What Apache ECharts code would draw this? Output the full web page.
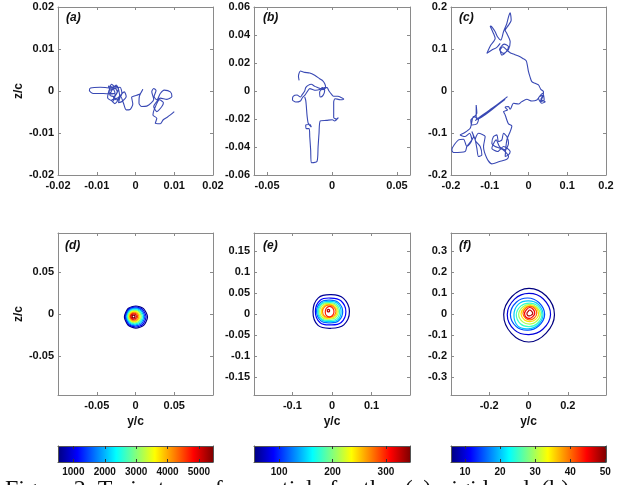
<!DOCTYPE html>
<html><head><meta charset="utf-8">
<script src="https://cdn.jsdelivr.net/npm/echarts@6/dist/echarts.min.js"></script>
<style>html,body{margin:0;padding:0;background:#fff}#c{width:626px;height:485px}</style>
</head><body><div id="c"></div><script>
// ---------------- DATA ----------------
// Trajectories (y/c, z/c)
const trajA = [[-0.0057,0.0006],[-0.0091,0.0009],[-0.0116,0.0007],[-0.0119,0.0001],[-0.0109,-0.0006],[-0.0083,-0.0006],[-0.0066,-0.0007],[-0.0053,-0.0004],[-0.0061,0.0010],[-0.0070,0.0012],[-0.0064,0.0002],[-0.0050,0.0014],[-0.0044,0.0006],[-0.0055,-0.0013],[-0.0066,-0.0010],[-0.0059,0.0004],[-0.0040,0.0009],[-0.0035,-0.0006],[-0.0048,-0.0021],[-0.0057,-0.0017],[-0.0047,-0.0002],[-0.0062,0.0016],[-0.0068,-0.0004],[-0.0052,-0.0008],[-0.0058,-0.0024],[-0.0072,-0.0016],[-0.0066,0.0006],[-0.0048,0.0011],[-0.0041,-0.0012],[-0.0053,-0.0030],[-0.0062,-0.0022],[-0.0045,-0.0016],[-0.0029,-0.0002],[-0.0024,-0.0013],[-0.0035,-0.0025],[-0.0044,-0.0028],[-0.0038,-0.0013],[-0.0031,-0.0029],[-0.0024,-0.0045],[-0.0014,-0.0044],[-0.0007,-0.0031],[-0.0010,-0.0015],[0.0003,-0.0010],[0.0012,-0.0007],[0.0019,0.0004],[0.0010,-0.0013],[0.0009,-0.0029],[0.0016,-0.0037],[0.0029,-0.0036],[0.0040,-0.0029],[0.0047,-0.0020],[0.0042,-0.0002],[0.0047,0.0006],[0.0053,0.0001],[0.0048,-0.0013],[0.0055,-0.0021],[0.0064,-0.0006],[0.0074,0.0002],[0.0090,-0.0002],[0.0094,-0.0013],[0.0081,-0.0020],[0.0064,-0.0017],[0.0055,-0.0025],[0.0047,-0.0037],[0.0055,-0.0049],[0.0068,-0.0037],[0.0072,-0.0028],[0.0062,-0.0021],[0.0048,-0.0045],[0.0045,-0.0057],[0.0055,-0.0065],[0.0051,-0.0077],[0.0064,-0.0078],[0.0071,-0.0069],[0.0081,-0.0063],[0.0090,-0.0057],[0.0100,-0.0049]];
const trajB = [[-0.0253,0.0076],[-0.0258,0.0105],[-0.0243,0.0143],[-0.0210,0.0133],[-0.0171,0.0129],[-0.0133,0.0112],[-0.0095,0.0088],[-0.0069,0.0071],[-0.0054,0.0048],[-0.0049,0.0024],[-0.0069,0.0010],[-0.0107,0.0024],[-0.0133,0.0033],[-0.0159,0.0048],[-0.0184,0.0040],[-0.0202,0.0024],[-0.0210,0.0000],[-0.0228,-0.0024],[-0.0243,-0.0043],[-0.0269,-0.0029],[-0.0299,-0.0038],[-0.0304,-0.0062],[-0.0279,-0.0079],[-0.0243,-0.0071],[-0.0228,-0.0048],[-0.0210,-0.0031],[-0.0192,-0.0007],[-0.0171,0.0017],[-0.0125,0.0005],[-0.0095,0.0010],[-0.0074,0.0024],[-0.0056,0.0005],[-0.0069,-0.0031],[-0.0090,-0.0043],[-0.0095,-0.0007],[-0.0056,0.0024],[-0.0038,0.0024],[-0.0023,0.0000],[-0.0003,-0.0024],[0.0013,-0.0038],[0.0046,-0.0038],[0.0072,-0.0048],[0.0090,-0.0057],[0.0064,-0.0062],[0.0023,-0.0055],[0.0013,-0.0079],[0.0013,-0.0138],[0.0013,-0.0190],[0.0033,-0.0200],[0.0049,-0.0190],[0.0020,-0.0214],[0.0003,-0.0205],[-0.0043,-0.0210],[-0.0090,-0.0214],[-0.0100,-0.0305],[-0.0107,-0.0400],[-0.0115,-0.0502],[-0.0159,-0.0512],[-0.0164,-0.0424],[-0.0171,-0.0329],[-0.0176,-0.0269],[-0.0197,-0.0269],[-0.0202,-0.0245],[-0.0171,-0.0238],[-0.0159,-0.0257],[-0.0182,-0.0233],[-0.0192,-0.0174],[-0.0197,-0.0114],[-0.0202,-0.0067],[-0.0210,-0.0043]];
const trajC = [[-0.0542,-0.0135],[-0.0903,-0.0388],[-0.1247,-0.0610],[-0.1376,-0.0705],[-0.0989,-0.0467],[-0.0602,-0.0198],[-0.0628,-0.0214],[-0.1333,-0.0673],[-0.1350,-0.0570],[-0.1350,-0.0333],[-0.1333,-0.0531],[-0.1419,-0.0626],[-0.1488,-0.0689],[-0.1462,-0.0808],[-0.1333,-0.0784],[-0.1290,-0.0673],[-0.1419,-0.0610],[-0.1505,-0.0887],[-0.1677,-0.1006],[-0.1763,-0.1045],[-0.1634,-0.1085],[-0.1522,-0.1006],[-0.1462,-0.1164],[-0.1591,-0.1323],[-0.1677,-0.1148],[-0.1806,-0.1164],[-0.1978,-0.1402],[-0.1935,-0.1465],[-0.1634,-0.1441],[-0.1591,-0.1323],[-0.1419,-0.1085],[-0.1462,-0.0966],[-0.1376,-0.1164],[-0.1333,-0.1362],[-0.1290,-0.1560],[-0.1204,-0.1521],[-0.1247,-0.1323],[-0.1376,-0.1164],[-0.1290,-0.1006],[-0.1118,-0.1085],[-0.1161,-0.1323],[-0.1075,-0.1600],[-0.0946,-0.1734],[-0.0748,-0.1679],[-0.0559,-0.1624],[-0.0516,-0.1560],[-0.0602,-0.1441],[-0.0731,-0.1362],[-0.0860,-0.1323],[-0.0946,-0.1243],[-0.0903,-0.1085],[-0.0817,-0.1045],[-0.0774,-0.1204],[-0.0688,-0.1164],[-0.0645,-0.1006],[-0.0559,-0.1085],[-0.0516,-0.1243],[-0.0602,-0.1402],[-0.0748,-0.1323],[-0.0834,-0.1164],[-0.0946,-0.1362],[-0.0800,-0.1441],[-0.0645,-0.1323],[-0.0473,-0.1441],[-0.0516,-0.1521],[-0.0602,-0.1560],[-0.0559,-0.1164],[-0.0473,-0.0966],[-0.0430,-0.0832],[-0.0516,-0.0784],[-0.0559,-0.0689],[-0.0602,-0.0570],[-0.0645,-0.0491],[-0.0542,-0.0451],[-0.0602,-0.0388],[-0.0516,-0.0372],[-0.0473,-0.0436],[-0.0387,-0.0293],[-0.0258,-0.0309],[-0.0172,-0.0253],[-0.0043,-0.0198],[0.0086,-0.0238],[0.0215,-0.0214],[0.0284,-0.0135],[0.0387,-0.0095],[0.0318,-0.0198],[0.0430,-0.0253],[0.0344,-0.0293],[0.0258,-0.0174],[0.0370,-0.0055],[0.0404,-0.0214],[0.0301,-0.0253],[0.0370,-0.0135],[0.0387,-0.0016],[0.0318,0.0040],[0.0258,0.0143],[0.0172,0.0182],[0.0086,0.0222],[0.0043,0.0325],[0.0000,0.0459],[-0.0026,0.0594],[-0.0060,0.0721],[-0.0146,0.0776],[-0.0258,0.0832],[-0.0387,0.0879],[-0.0473,0.0911],[-0.0559,0.0974],[-0.0662,0.1053],[-0.0731,0.0974],[-0.0688,0.0855],[-0.0576,0.0935],[-0.0516,0.1053],[-0.0628,0.1117],[-0.0748,0.0990],[-0.0645,0.0895],[-0.0516,0.0990],[-0.0473,0.1172],[-0.0559,0.1370],[-0.0602,0.1449],[-0.0516,0.1568],[-0.0447,0.1687],[-0.0473,0.1861],[-0.0516,0.1766],[-0.0559,0.1608],[-0.0645,0.1410],[-0.0714,0.1212],[-0.0800,0.1291],[-0.0860,0.1410],[-0.0946,0.1529],[-0.0989,0.1544],[-0.0903,0.1370],[-0.0860,0.1251],[-0.0972,0.1093],[-0.1075,0.0895],[-0.0946,0.0974],[-0.0817,0.1038],[-0.0731,0.1133]];

// Contours: level, centre (y/c, z/c), radii at 0,45,...,315 degrees
const dLevels = [500,1000,1500,2000,2500,3000,3500,4000,4500,5000,5400];
const dCenters = [[0.0005,-0.0035],[0.0002,-0.0034],[-0.0002,-0.0033],[-0.0005,-0.0032],[-0.0008,-0.0031],[-0.0011,-0.0030],[-0.0014,-0.0030],[-0.0017,-0.0030],[-0.0020,-0.0030],[-0.0023,-0.0030],[-0.0025,-0.0030]];
const dRadii = [[0.0150,0.0140,0.0130,0.0142,0.0148,0.0140,0.0132,0.0142],[0.0135,0.0126,0.0118,0.0128,0.0134,0.0127,0.0120,0.0128],[0.0122,0.0114,0.0106,0.0116,0.0121,0.0115,0.0108,0.0115],[0.0110,0.0102,0.0095,0.0104,0.0108,0.0103,0.0096,0.0103],[0.0097,0.0090,0.0084,0.0092,0.0096,0.0091,0.0085,0.0091],[0.0085,0.0079,0.0073,0.0080,0.0084,0.0079,0.0074,0.0079],[0.0072,0.0067,0.0062,0.0068,0.0071,0.0067,0.0063,0.0067],[0.0060,0.0055,0.0051,0.0056,0.0059,0.0055,0.0052,0.0055],[0.0047,0.0044,0.0041,0.0045,0.0047,0.0044,0.0041,0.0044],[0.0034,0.0032,0.0030,0.0033,0.0035,0.0032,0.0030,0.0032],[0.0018,0.0017,0.0016,0.0017,0.0019,0.0017,0.0016,0.0017]];
const eLevels = [60,90,120,150,180,210,240,270,300,330];
const eCenters = [[-0.002,0.006],[-0.003,0.006],[-0.005,0.006],[-0.005,0.006],[-0.006,0.006],[-0.006,0.006],[-0.006,0.006],[-0.006,0.006],[-0.006,0.005],[-0.009,0.008]];
const eRadii = [[0.046,0.044,0.040,0.046,0.046,0.047,0.040,0.045],[0.038,0.036,0.032,0.038,0.039,0.038,0.032,0.037],[0.032,0.030,0.027,0.032,0.034,0.032,0.027,0.031],[0.028,0.027,0.024,0.029,0.031,0.029,0.024,0.028],[0.025,0.024,0.021,0.026,0.028,0.026,0.021,0.025],[0.022,0.021,0.019,0.023,0.025,0.023,0.018,0.021],[0.019,0.018,0.017,0.020,0.021,0.020,0.016,0.018],[0.016,0.015,0.015,0.017,0.018,0.017,0.014,0.015],[0.011,0.012,0.013,0.012,0.011,0.012,0.012,0.011],[0.003,0.003,0.003,0.003,0.003,0.003,0.003,0.003]];
const fLevels = [5,10,15,20,25,30,35,40,45,48];
const fCenters = [[0.002,-0.003],[0.002,-0.002],[-0.004,-0.002],[0.000,-0.004],[0.004,-0.004],[0.006,-0.002],[0.008,0.000],[0.008,0.002],[0.006,0.003],[0.006,0.003]];
const fRadii = [[0.130,0.125,0.125,0.122,0.128,0.126,0.130,0.124],[0.110,0.104,0.100,0.103,0.110,0.104,0.096,0.100],[0.086,0.080,0.078,0.082,0.088,0.082,0.075,0.078],[0.074,0.070,0.066,0.072,0.074,0.076,0.066,0.068],[0.064,0.060,0.056,0.060,0.066,0.062,0.056,0.058],[0.054,0.050,0.048,0.050,0.056,0.050,0.046,0.048],[0.044,0.042,0.040,0.042,0.046,0.040,0.036,0.038],[0.034,0.034,0.034,0.034,0.036,0.032,0.030,0.030],[0.026,0.026,0.028,0.024,0.026,0.026,0.024,0.022],[0.016,0.014,0.016,0.012,0.014,0.014,0.012,0.012]];

// Axis ranges and tick labels
const aX = [-0.02,0.02], aY = [-0.02,0.02], aTicks = [-0.02,-0.01,0,0.01,0.02];
const bX = [-0.06,0.06], bY = [-0.06,0.06], bXTicks = [-0.05,0,0.05], bYTicks = [-0.06,-0.04,-0.02,0,0.02,0.04,0.06];
const cX = [-0.2,0.2], cY = [-0.2,0.2], cTicks = [-0.2,-0.1,0,0.1,0.2];
const dX = [-0.1,0.1], dY = [-0.096,0.096], dTicks = [-0.05,0,0.05];
const eX = [-0.197,0.197], eY = [-0.193,0.193], eXTicks = [-0.1,0,0.1], eYTicks = [-0.15,-0.1,-0.05,0,0.05,0.1,0.15];
const fX = [-0.394,0.394], fY = [-0.385,0.385], fXTicks = [-0.2,0,0.2], fYTicks = [-0.3,-0.2,-0.1,0,0.1,0.2,0.3];
const cb1Range = [510,5450], cb1Ticks = [1000,2000,3000,4000,5000];
const cb2Range = [53,345], cb2Ticks = [100,200,300];
const cb3Range = [6,50.2], cb3Ticks = [10,20,30,40,50];
const panelLabels = ['(a)','(b)','(c)','(d)','(e)','(f)'];
const captionText = 'Figure 2. Trajectory of a  particle for the  (a)  rigid and  (b)';

// ---------------- LAYOUT / STYLE ----------------
const FONT = '"Liberation Sans", Arial, Helvetica, sans-serif';
const AX = '#8a8a8a';
const TRAJ = '#3949b4';
const fmt = v => String(v);
const grids = [], xAxes = [], yAxes = [], series = [], graphics = [];

function jet(t){
  t = Math.max(0, Math.min(1, t));
  const f = v => Math.round(255 * Math.max(0, Math.min(1, 1.5 - Math.abs(v))));
  return 'rgb(' + f(4*t-3) + ',' + f(4*t-2) + ',' + f(4*t-1) + ')';
}

function panel(rect, xr, yr, xt, yt, xname, yname){
  const gi = grids.length;
  grids.push({left:rect[0], top:rect[1], width:rect[2], height:rect[3]});
  const line = {show:true, onZero:false, lineStyle:{color:AX, width:1}};
  const lab = {fontFamily:FONT, fontWeight:'bold', fontSize:11, color:'#111'};
  const tick = v => ({show:true, inside:true, length:3, customValues:v, lineStyle:{color:AX}});
  const xi = xAxes.length, yi = yAxes.length;
  xAxes.push({type:'value', gridIndex:gi, position:'bottom', min:xr[0], max:xr[1], splitLine:{show:false}, axisLine:line,
    axisTick:tick(xt), axisLabel:Object.assign({show:true, margin:5, customValues:xt, formatter:fmt}, lab),
    name:xname, nameLocation:'middle', nameGap:21, nameTextStyle:Object.assign({}, lab, {fontSize:12})});
  xAxes.push({type:'value', gridIndex:gi, position:'top', min:xr[0], max:xr[1], splitLine:{show:false}, axisLine:line,
    axisTick:tick(xt), axisLabel:{show:false}});
  yAxes.push({type:'value', gridIndex:gi, position:'left', min:yr[0], max:yr[1], splitLine:{show:false}, axisLine:line,
    axisTick:tick(yt), axisLabel:Object.assign({show:true, margin:4, customValues:yt, formatter:fmt}, lab),
    name:yname, nameLocation:'middle', nameRotate:90, nameGap:33, nameTextStyle:Object.assign({}, lab, {fontSize:12})});
  yAxes.push({type:'value', gridIndex:gi, position:'right', min:yr[0], max:yr[1], splitLine:{show:false}, axisLine:line,
    axisTick:tick(yt), axisLabel:{show:false}});
  return {xAxisIndex:xi, yAxisIndex:yi};
}

function trajectory(ax, pts){
  series.push(Object.assign({type:'line', data:pts, symbol:'none', smooth:0.25, silent:true,
    lineStyle:{color:TRAJ, width:1.1}}, ax));
}

function contours(ax, levels, centers, radii, range, sm){
  levels.forEach((lv, i) => {
    const c = centers[i];
    const pts = radii[i].map((r, k) => [c[0] + r*Math.cos(k*Math.PI/4), c[1] + r*Math.sin(k*Math.PI/4)]);
    const col = jet((lv - range[0]) / (range[1] - range[0]));
    series.push(Object.assign({type:'custom', data:pts, silent:true, z:3,
      renderItem:(params, api) => {
        if (params.dataIndex !== 0) return null;
        return {type:'polygon', shape:{points:pts.map(p => api.coord(p)), smooth:sm},
          style:{fill:'none', stroke:col, lineWidth:1.2}};
      }}, ax));
  });
}

function colorbar(rect, range, ticks){
  const gi = grids.length;
  grids.push({left:rect[0], top:rect[1], width:rect[2], height:rect[3]});
  const line = {show:true, onZero:false, lineStyle:{color:'#555', width:1}};
  const xi = xAxes.length, yi = yAxes.length;
  xAxes.push({type:'value', gridIndex:gi, position:'bottom', min:range[0], max:range[1], z:5, splitLine:{show:false}, axisLine:line,
    axisTick:{show:true, inside:true, length:3, customValues:ticks, lineStyle:{color:'#333'}},
    axisLabel:{show:true, margin:5, customValues:ticks, formatter:fmt, fontFamily:FONT, fontWeight:'bold', fontSize:10, color:'#111'}});
  xAxes.push({type:'value', gridIndex:gi, position:'top', min:range[0], max:range[1], z:5, splitLine:{show:false}, axisLine:line,
    axisTick:{show:true, inside:true, length:3, customValues:ticks, lineStyle:{color:'#333'}}, axisLabel:{show:false}});
  yAxes.push({type:'value', gridIndex:gi, position:'left', min:0, max:1, z:5, splitLine:{show:false}, axisLine:line, axisTick:{show:false}, axisLabel:{show:false}});
  yAxes.push({type:'value', gridIndex:gi, position:'right', min:0, max:1, z:5, splitLine:{show:false}, axisLine:line, axisTick:{show:false}, axisLabel:{show:false}});
  const stops = [];
  for (let i = 0; i <= 32; i++) stops.push({offset:i/32, color:jet(i/32)});
  series.push({type:'custom', xAxisIndex:xi, yAxisIndex:yi, silent:true, z:2,
    data:[[range[0], 0, range[1], 1]], encode:{x:[0,2], y:[1,3]},
    renderItem:(params, api) => {
      const p0 = api.coord([api.value(0), api.value(1)]);
      const p1 = api.coord([api.value(2), api.value(3)]);
      return {type:'rect', shape:{x:p0[0], y:p1[1], width:p1[0]-p0[0], height:p0[1]-p1[1]},
        style:{fill:new echarts.graphic.LinearGradient(0,0,1,0,stops)}};
    }});
}

const rects = {a:[58,7,155,168], b:[254,7,156,168], c:[451,7,155,168],
  d:[58,233,155,162], e:[254,233,156,162], f:[451,233,155,162]};

const A = panel(rects.a, aX, aY, aTicks, aTicks, '', 'z/c');
const B = panel(rects.b, bX, bY, bXTicks, bYTicks, '', '');
const C = panel(rects.c, cX, cY, cTicks, cTicks, '', '');
const D = panel(rects.d, dX, dY, dTicks, dTicks, 'y/c', 'z/c');
const E = panel(rects.e, eX, eY, eXTicks, eYTicks, 'y/c', '');
const F = panel(rects.f, fX, fY, fXTicks, fYTicks, 'y/c', '');

trajectory(A, trajA);
trajectory(B, trajB);
trajectory(C, trajC);
contours(D, dLevels, dCenters, dRadii, cb1Range, 0.25);
contours(E, eLevels, eCenters, eRadii, cb2Range, 0.4);
contours(F, fLevels, fCenters, fRadii, cb3Range, 0.4);

colorbar([58,446,155,16], cb1Range, cb1Ticks);
colorbar([254,446,156,16], cb2Range, cb2Ticks);
colorbar([451,446,155,16], cb3Range, cb3Ticks);

const labelPos = [[66,12],[263,12],[459,12],[65,240],[263,240],[459,240]];
panelLabels.forEach((t, i) => graphics.push({type:'text', left:labelPos[i][0], top:labelPos[i][1], z:10,
  style:{text:t, fill:'#111', font:'italic bold 12px ' + FONT}}));
graphics.push({type:'text', left:5, top:478, z:10,
  style:{text:captionText, fill:'#111', font:'24px "Liberation Serif", "Times New Roman", serif'}});

const chart = echarts.init(document.getElementById('c'));
chart.setOption({animation:false, backgroundColor:'#fff', grid:grids, xAxis:xAxes, yAxis:yAxes, series:series, graphic:graphics});
</script></body></html>
